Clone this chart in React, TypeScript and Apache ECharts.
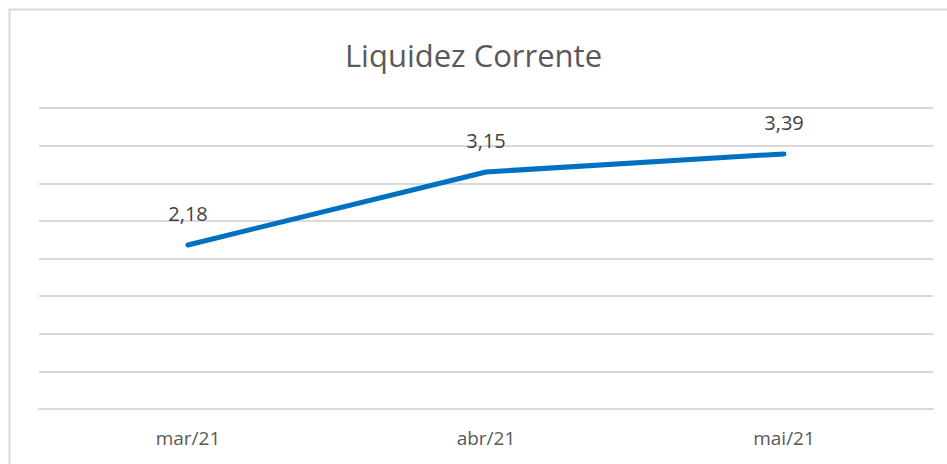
import React, { useEffect, useRef } from "react";
import * as echarts from "echarts";

const categories = ["mar/21", "abr/21", "mai/21"];
const values = [2.18, 3.15, 3.39];
const titleText = "Liquidez Corrente";

export default function App() {
  const ref = useRef<HTMLDivElement>(null);
  useEffect(() => {
    if (!ref.current) return;
    const chart = echarts.init(ref.current, null, { renderer: "svg" });
    chart.setOption({
      animation: false,
      backgroundColor: "#ffffff",
      graphic: [
        {
          type: "rect",
          shape: { x: 9.5, y: 9.5, width: 1000, height: 1000 },
          style: { fill: "none", stroke: "#d9d9d9", lineWidth: 2 },
          silent: true,
        },
      ],
      title: {
        text: titleText,
        left: "center",
        top: 34,
        textStyle: {
          fontFamily: "Open Sans",
          fontSize: 31,
          fontWeight: "normal",
          color: "#595959",
        },
      },
      grid: { left: 39, right: 14, top: 108, bottom: 55 },
      xAxis: {
        type: "category",
        data: categories,
        boundaryGap: true,
        axisLine: { show: true, lineStyle: { color: "#d9d9d9", width: 2 } },
        axisTick: { show: false },
        axisLabel: {
          fontFamily: "Open Sans",
          fontSize: 19,
          color: "#595959",
          margin: 19,
        },
      },
      yAxis: {
        type: "value",
        min: 0,
        max: 4,
        interval: 0.5,
        axisLabel: { show: false },
        axisLine: { show: false },
        axisTick: { show: false },
        splitLine: { lineStyle: { color: "#d9d9d9", width: 2 } },
      },
      series: [
        {
          type: "line",
          data: values,
          symbol: "circle",
          symbolSize: 2,
          showSymbol: true,
          itemStyle: { color: "rgba(0,0,0,0)", borderWidth: 0 },
          lineStyle: { color: "#0070c0", width: 5, cap: "round" },
          label: {
            show: true,
            position: "top",
            distance: 20,
            fontFamily: "Open Sans",
            fontSize: 20,
            color: "#404040",
            formatter: (p: any) => p.value.toFixed(2).replace(".", ","),
          },
        },
      ],
    });
    return () => chart.dispose();
  }, []);
  return (
    <div
      ref={ref}
      style={{ position: "absolute", left: 0, top: 0, width: 947, height: 464 }}
    />
  );
}
